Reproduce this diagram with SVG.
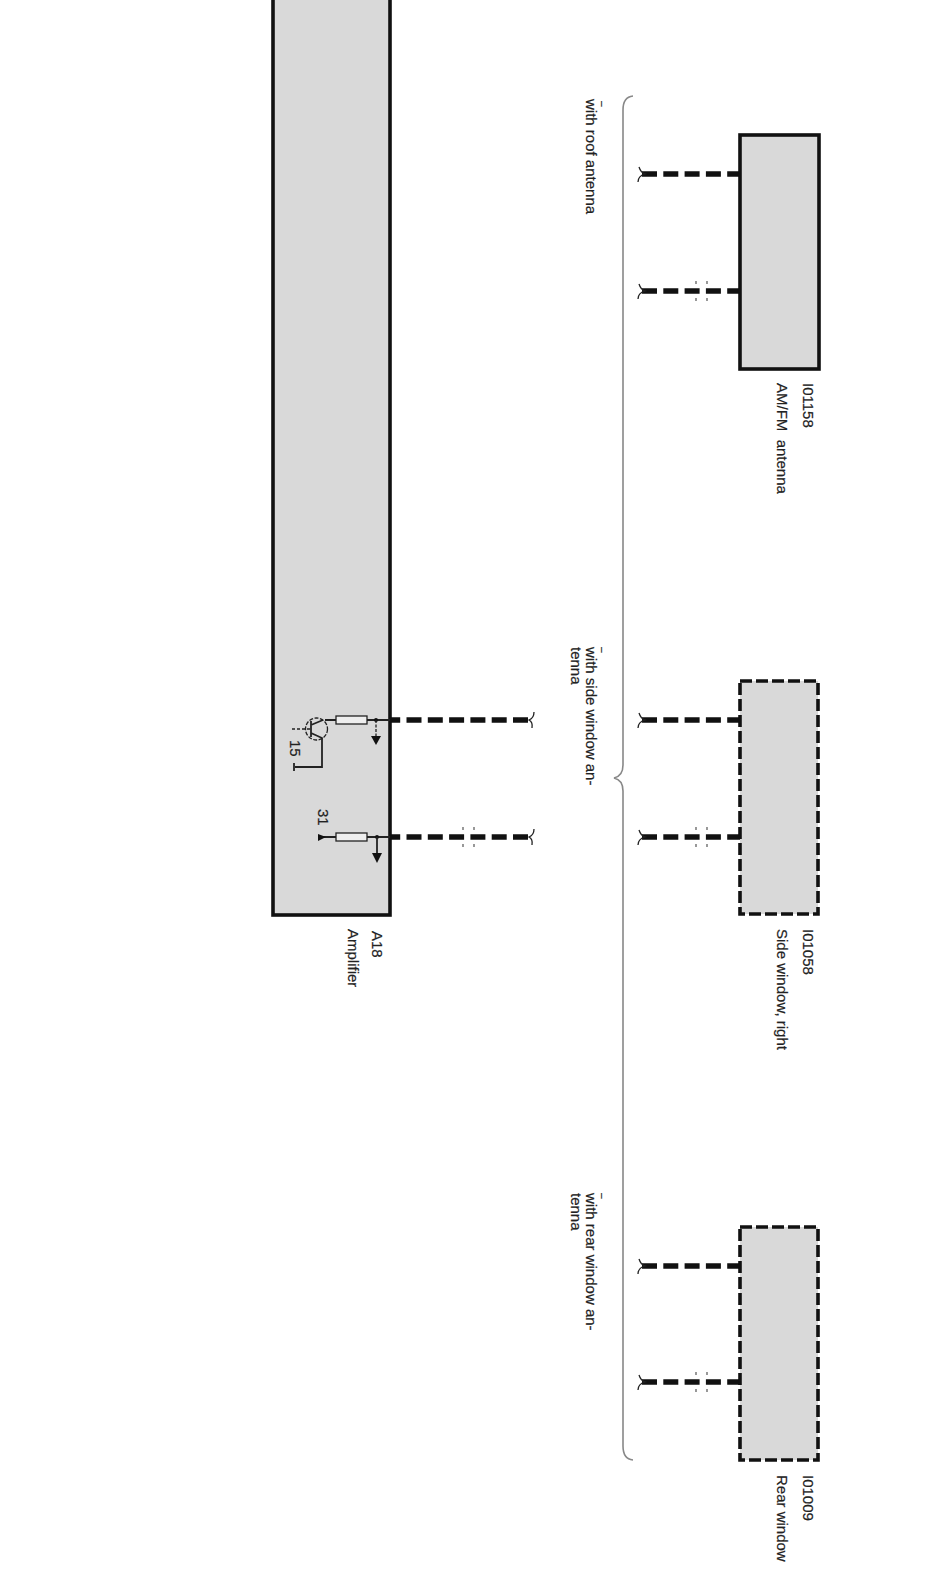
<svg xmlns="http://www.w3.org/2000/svg" width="945" height="1582" viewBox="0 0 945 1582">
<style>
text{font-family:"Liberation Sans",Arial,sans-serif;font-size:15px;fill:#222;stroke:#222;stroke-width:0.2;white-space:pre}
.box{fill:#d9d9d9;stroke:#111;stroke-width:3.6}
.dbox{fill:#d9d9d9;stroke:#111;stroke-width:3.6;stroke-dasharray:12 4}
.wire{fill:none;stroke:#111;stroke-width:5.4;stroke-dasharray:15 6.3}
.thin{fill:none;stroke:#222;stroke-width:1.3}
.thick{fill:none;stroke:#222;stroke-width:1.8}
.brace{fill:none;stroke:#888;stroke-width:1.6}
.res{fill:#eee;stroke:#222;stroke-width:1.3}
.tick{fill:none;stroke:#555;stroke-width:1.2}
.fillb{fill:#111;stroke:none}
.mark{font-size:10px}
</style>
<defs>
<path id="curlL" class="thin" d="M-6,-7Q-4,-1 0,0Q-7,2 -7,8"/>
<path id="curlR" class="thin" d="M3,-8Q3,-2 -2,0Q2,2 1,8"/>
<path id="shield" class="tick" d="M-6,-10v3M5,-10v3M-6,7v3M5,7v3"/>
</defs>
<g id="connectors">
<path class="wire" d="M528,720H390"/>
<path class="wire" d="M528,837H390"/>
<path class="wire" d="M642,174H742"/>
<path class="wire" d="M642,291H742"/>
<path class="wire" d="M642,720H742"/>
<path class="wire" d="M642,837H742"/>
<path class="wire" d="M642,1266H742"/>
<path class="wire" d="M642,1382H742"/>
<use href="#curlR" x="531" y="720"/>
<use href="#curlR" x="531" y="837"/>
<use href="#curlL" x="645" y="174"/>
<use href="#curlL" x="645" y="291"/>
<use href="#curlL" x="645" y="720"/>
<use href="#curlL" x="645" y="837"/>
<use href="#curlL" x="645" y="1266"/>
<use href="#curlL" x="645" y="1382"/>
<use href="#shield" x="469" y="837"/>
<use href="#shield" x="702" y="291"/>
<use href="#shield" x="702" y="837"/>
<use href="#shield" x="702" y="1382"/>
</g>
<g id="A18">
<rect class="box" x="273" y="-10" width="117" height="925"/>
<path class="thick" d="M325,720H390"/>
<rect class="res" x="336" y="716" width="31" height="8"/>
<circle class="fillb" cx="376" cy="720" r="2"/>
<path class="thin" stroke-dasharray="3 1.5" d="M376,720V737"/>
<path class="fillb" d="M371,736H381L376,745Z"/>
<circle class="thin" stroke-dasharray="4 1.5" cx="316.5" cy="729" r="11"/>
<path class="thin" stroke-dasharray="3 2" d="M292,729H311"/>
<path class="thick" d="M311,721V737M311,725L323,720M311,733L322,738V767H295"/>
<path class="thick" d="M294,763V771"/>
<text transform="translate(290,740) rotate(90)">15</text>
<path class="thick" d="M321,837H390"/>
<rect class="res" x="336" y="833" width="31" height="8"/>
<path class="fillb" d="M318,834L326,837L318,841Z"/>
<circle class="fillb" cx="377" cy="837" r="2"/>
<path class="thick" d="M377,837V854"/>
<path class="fillb" d="M372,853H382L377,863Z"/>
<text transform="translate(318,809) rotate(90)">31</text>
<text transform="translate(372,931) rotate(90)">A18</text>
<text transform="translate(348,929) rotate(90)">Amplifier</text>
</g>
<g id="I01158">
<rect class="box" x="740" y="135" width="79" height="234"/>
<text transform="translate(803,383) rotate(90)">I01158</text>
<text transform="translate(777,383) rotate(90)" xml:space="preserve">AM/FM  antenna</text>
</g>
<g id="I01058">
<rect class="dbox" x="740" y="681" width="78" height="233"/>
<text transform="translate(803,929) rotate(90)">I01058</text>
<text transform="translate(777,929) rotate(90)">Side window, right</text>
</g>
<g id="I01009">
<rect class="dbox" x="740" y="1227" width="78" height="233"/>
<text transform="translate(803,1475) rotate(90)">I01009</text>
<text transform="translate(777,1475) rotate(90)">Rear window</text>
</g>
<g id="options">
<path class="brace" d="M633,96Q623,97 623,110V765Q623,776 614,778Q623,780 623,791V1446Q623,1459 633,1460"/>
<text transform="translate(586,99) rotate(90)">with roof antenna</text>
<text class="mark" transform="translate(599,101) rotate(90)">–</text>
<text transform="translate(586,647) rotate(90)">with side window an-</text>
<text transform="translate(571,647) rotate(90)">tenna</text>
<text class="mark" transform="translate(599,647) rotate(90)">–</text>
<text transform="translate(586,1193) rotate(90)">with rear window an-</text>
<text transform="translate(571,1193) rotate(90)">tenna</text>
<text class="mark" transform="translate(599,1193) rotate(90)">–</text>
</g>
</svg>
